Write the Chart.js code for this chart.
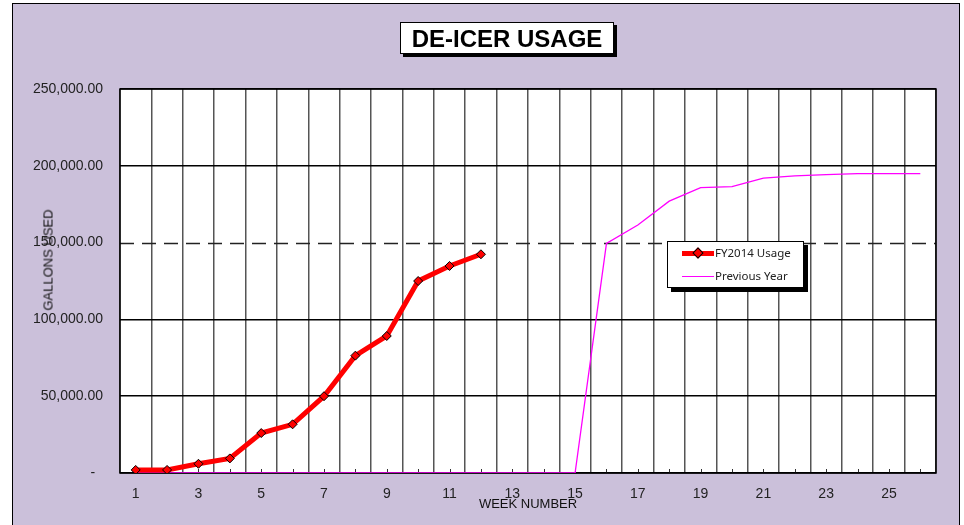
<!DOCTYPE html>
<html>
<head>
<meta charset="utf-8">
<script src="https://cdn.jsdelivr.net/npm/chart.js@4"></script>
<style>
  body { margin: 0; background: #fff; font-family: "Liberation Sans", Arial, sans-serif; }
  #wrap { position: relative; width: 964px; height: 525px; overflow: hidden; }
  #bg { position: absolute; left: 12px; top: 3px; width: 946px; height: 530px;
        background: #cbc0da; border: 1px solid #000; }
  #chart { position: absolute; left: 0; top: 0; }
  .title { position: absolute; left: 400px; top: 22px; width: 212px; height: 30px;
           background: #fff; border: 1.5px solid #000; box-shadow: 3px 3px 0 #000;
           font: bold 24px "Liberation Sans", Arial, sans-serif; text-align: center; line-height: 31px; }
  .legend { position: absolute; left: 667px; top: 241px; width: 135px; height: 45px;
            background: #fff; border: 1px solid #000; box-shadow: 4px 4px 0 #000;
            font: 11.5px "Noto Sans", "Liberation Sans", sans-serif; color: #222; }
  .legend .row { position: absolute; left: 14px; height: 14px; line-height: 14px; white-space: nowrap; }
  .legend .sw { display: inline-block; position: relative; width: 32px; vertical-align: middle; margin-right: 1px; }
  .axt { position: absolute; font: 13px "Liberation Sans", Arial, sans-serif; color: #111; white-space: nowrap; }
</style>
</head>
<body>
<div id="wrap">
  <div id="bg"></div>
  <canvas id="chart" width="964" height="525"></canvas>
  <div class="title">DE-ICER USAGE</div>
  <div class="legend">
    <div class="row" style="top:4px;">
      <span class="sw" style="height:5px;background:#ff0000;">
        <span style="position:absolute;left:12px;top:-2.5px;width:6px;height:6px;background:#ff0000;border:1px solid #000;transform:rotate(45deg);"></span>
      </span>FY2014 Usage</div>
    <div class="row" style="top:27px;">
      <span class="sw" style="height:1px;background:#ff00ff;"></span>Previous Year</div>
  </div>
  <div class="axt" style="left:48px;top:260px;transform:translate(-50%,-50%) rotate(-90deg);">GALLONS USED</div>
  <div class="axt" style="left:528px;top:503px;transform:translate(-50%,-50%);">WEEK NUMBER</div>
</div>

<script>
const weeks = ["1","2","3","4","5","6","7","8","9","10","11","12","13",
               "14","15","16","17","18","19","20","21","22","23","24","25","26"];
const fy2014Usage = [2000, 2000, 6000, 9500, 26000, 31700, 50000, 76400, 89200, 125000, 134800, 142400];
const previousYear = [0, 0, 0, 0, 0, 0, 0, 0, 0, 0, 0, 0, 0, 0, 0,
                      149500, 161500, 177000, 185800, 186400, 192000, 193400, 194200, 194900, 194900, 194900];
const yTicks = [0, 50000, 100000, 150000, 200000, 250000];
const dashedAt = 150000;

// plot background, dashed line, inner tick marks and frame
const plotExtras = {
  id: "plotExtras",
  beforeDraw(chart) {
    const { ctx, chartArea: a } = chart;
    ctx.save();
    ctx.fillStyle = "#fff";
    ctx.fillRect(a.left, a.top, a.right - a.left, a.bottom - a.top);
    ctx.restore();
  },
  beforeDatasetsDraw(chart) {
    const { ctx, chartArea: a, scales } = chart;
    ctx.save();
    const y = Math.round(scales.y.getPixelForValue(dashedAt)) + 0.5;
    ctx.strokeStyle = "#222";
    ctx.lineWidth = 1.5;
    ctx.setLineDash([14, 8]);
    ctx.beginPath();
    ctx.moveTo(a.left, y);
    ctx.lineTo(a.right, y);
    ctx.stroke();
    ctx.setLineDash([]);
    ctx.strokeStyle = "#333";
    ctx.lineWidth = 1;
    weeks.forEach((w, i) => {
      const x = Math.round(scales.x.getPixelForValue(i)) + 0.5;
      ctx.beginPath();
      ctx.moveTo(x, a.bottom);
      ctx.lineTo(x, a.bottom - 4);
      ctx.stroke();
    });
    ctx.strokeStyle = "#000";
    ctx.lineWidth = 1.5;
    ctx.strokeRect(a.left, a.top, a.right - a.left, a.bottom - a.top);
    ctx.restore();
  }
};

new Chart(document.getElementById("chart"), {
  type: "line",
  data: {
    labels: weeks,
    datasets: [
      {
        label: "FY2014 Usage",
        data: fy2014Usage,
        borderColor: "#ff0000",
        borderWidth: 5,
        pointStyle: "rectRot",
        pointRadius: 4.5,
        pointBackgroundColor: "#ff0000",
        pointBorderColor: "#000",
        pointBorderWidth: 1,
        tension: 0
      },
      {
        label: "Previous Year",
        data: previousYear,
        borderColor: "#ff00ff",
        borderWidth: 1.3,
        pointRadius: 0,
        tension: 0
      }
    ]
  },
  plugins: [plotExtras],
  options: {
    responsive: false,
    animation: false,
    devicePixelRatio: 1,
    layout: { padding: { left: 0, top: 89, right: 28, bottom: 0 } },
    plugins: {
      legend: { display: false },
      tooltip: { enabled: false }
    },
    scales: {
      x: {
        offset: true,
        afterFit(scale) { scale.height = 52; },
        grid: { offset: true, color: "#555", lineWidth: 1.5, drawTicks: false },
        border: { display: false },
        ticks: {
          autoSkip: false,
          maxRotation: 0,
          padding: 13,
          color: "#222",
          font: { family: "Liberation Sans", size: 14 },
          callback: (v, i) => (i % 2 === 0 ? weeks[i] : "")
        }
      },
      y: {
        min: 0,
        max: 250000,
        afterFit(scale) { scale.width = 120; },
        afterBuildTicks(scale) { scale.ticks = yTicks.map(v => ({ value: v })); },
        grid: {
          color: c => (c.tick && c.tick.value === dashedAt ? "rgba(0,0,0,0)" : "#000"),
          lineWidth: 1.5,
          drawTicks: false
        },
        border: { display: false },
        ticks: {
          padding: 17,
          color: "#222",
          font: { family: "Liberation Sans", size: 14 },
          callback: v => (v === 0 ? "-  " : v.toLocaleString("en-US", { minimumFractionDigits: 2, maximumFractionDigits: 2 }))
        }
      }
    }
  }
});
</script>
</body>
</html>
